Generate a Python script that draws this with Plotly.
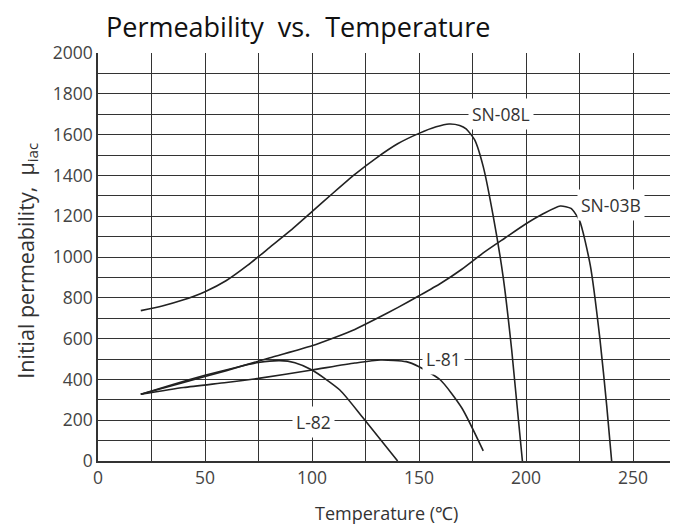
import plotly.graph_objects as go

# SN-08L
sn08l_t = [20, 30, 40, 50, 60, 70, 80, 90, 100, 110, 120, 130, 140, 150, 158, 164, 169, 172, 176, 180, 184.7, 189.3, 193.3, 198.3]
sn08l_mu = [737, 760, 790, 830, 885, 960, 1045, 1130, 1222, 1315, 1405, 1485, 1555, 1606, 1638, 1652, 1645, 1628, 1574, 1443, 1198, 903, 544, 0]

# SN-03B
sn03b_t = [20, 40, 60, 80, 100, 110, 120, 130, 140, 150, 160, 170, 180, 190, 200, 208, 216, 221, 225, 230, 234.5, 237.7, 240]
sn03b_mu = [327, 385, 443, 505, 565, 603, 645, 697, 752, 810, 870, 940, 1020, 1092, 1163, 1212, 1250, 1238, 1178, 960, 600, 270, 0]

# L-81
l81_t = [20, 40, 60, 75, 100, 120, 132, 144, 150, 160, 170, 180]
l81_mu = [327, 360, 385, 405, 446, 480, 495, 487, 462, 397, 260, 50]

# L-82
l82_t = [20, 35, 50, 65, 75, 85, 92, 100, 113, 124, 140]
l82_mu = [327, 375, 420, 460, 483, 492, 482, 446, 348, 209, 0]

series = [("SN-08L", sn08l_t, sn08l_mu), ("SN-03B", sn03b_t, sn03b_mu),
          ("L-81", l81_t, l81_mu), ("L-82", l82_t, l82_mu)]

labels = ["SN-08L", "SN-03B", "L-81", "L-82"]
label_t = [188.5, 239.5, 161.5, 100.5]
label_mu = [1700, 1255, 498, 192]

x_ticks = [0, 50, 100, 150, 200, 250]
y_ticks = [0, 200, 400, 600, 800, 1000, 1200, 1400, 1600, 1800, 2000]

FONT = "Open Sans"

fig = go.Figure()
for name, t, mu in series:
    fig.add_trace(go.Scatter(x=t, y=mu, mode="lines", name=name,
                             line=dict(color="#222222", width=1.6, shape="spline", smoothing=0.6),
                             showlegend=False, hoverinfo="skip"))

for txt, t, mu in zip(labels, label_t, label_mu):
    fig.add_annotation(x=t, y=mu, text=txt, showarrow=False, bgcolor="white",
                       borderpad=3, font=dict(family=FONT, size=17.5, color="#333333"))

grid_c = "#333333"
fig.update_xaxes(range=[0, 271], tickvals=x_ticks, showgrid=True, gridcolor=grid_c, gridwidth=1.3,
                 minor=dict(dtick=25, tick0=0, showgrid=True, gridcolor=grid_c, gridwidth=1.3),
                 showline=True, linecolor=grid_c, linewidth=1.5, zeroline=False, ticks="",
                 tickfont=dict(family=FONT, size=17.5, color="#444444"))
fig.update_yaxes(range=[0, 2000], tickvals=y_ticks, showgrid=True, gridcolor=grid_c, gridwidth=1.3,
                 minor=dict(dtick=100, tick0=0, showgrid=True, gridcolor=grid_c, gridwidth=1.3),
                 showline=True, linecolor=grid_c, linewidth=1.5, zeroline=False, ticks="",
                 tickfont=dict(family=FONT, size=17.5, color="#444444"))

fig.add_annotation(xref="paper", yref="paper", x=-0.123, y=0.49, xanchor="center", yanchor="middle",
                   textangle=-90, text="Initial permeability,  μ<sub>iac</sub>", showarrow=False,
                   font=dict(family=FONT, size=21.5, color="#333333"))
fig.add_annotation(xref="paper", yref="paper", x=0.497, y=-0.127, xanchor="center", yanchor="middle",
                   text="Temperature (℃)", showarrow=False,
                   font=dict(family=FONT, size=18, color="#333333"))

# page body has an 8px margin, so the figure is laid out 8px smaller
fig.update_layout(
    width=670, height=521,
    margin=dict(l=90, r=0, t=45, b=68),
    paper_bgcolor="white", plot_bgcolor="white",
    title=dict(text="Permeability  vs.  Temperature", x=98/670, xanchor="left",
               y=1 - 20/521, yanchor="middle", yref="container",
               font=dict(family=FONT, size=27, color="#111111")),
)

fig.write_html("out.html")
